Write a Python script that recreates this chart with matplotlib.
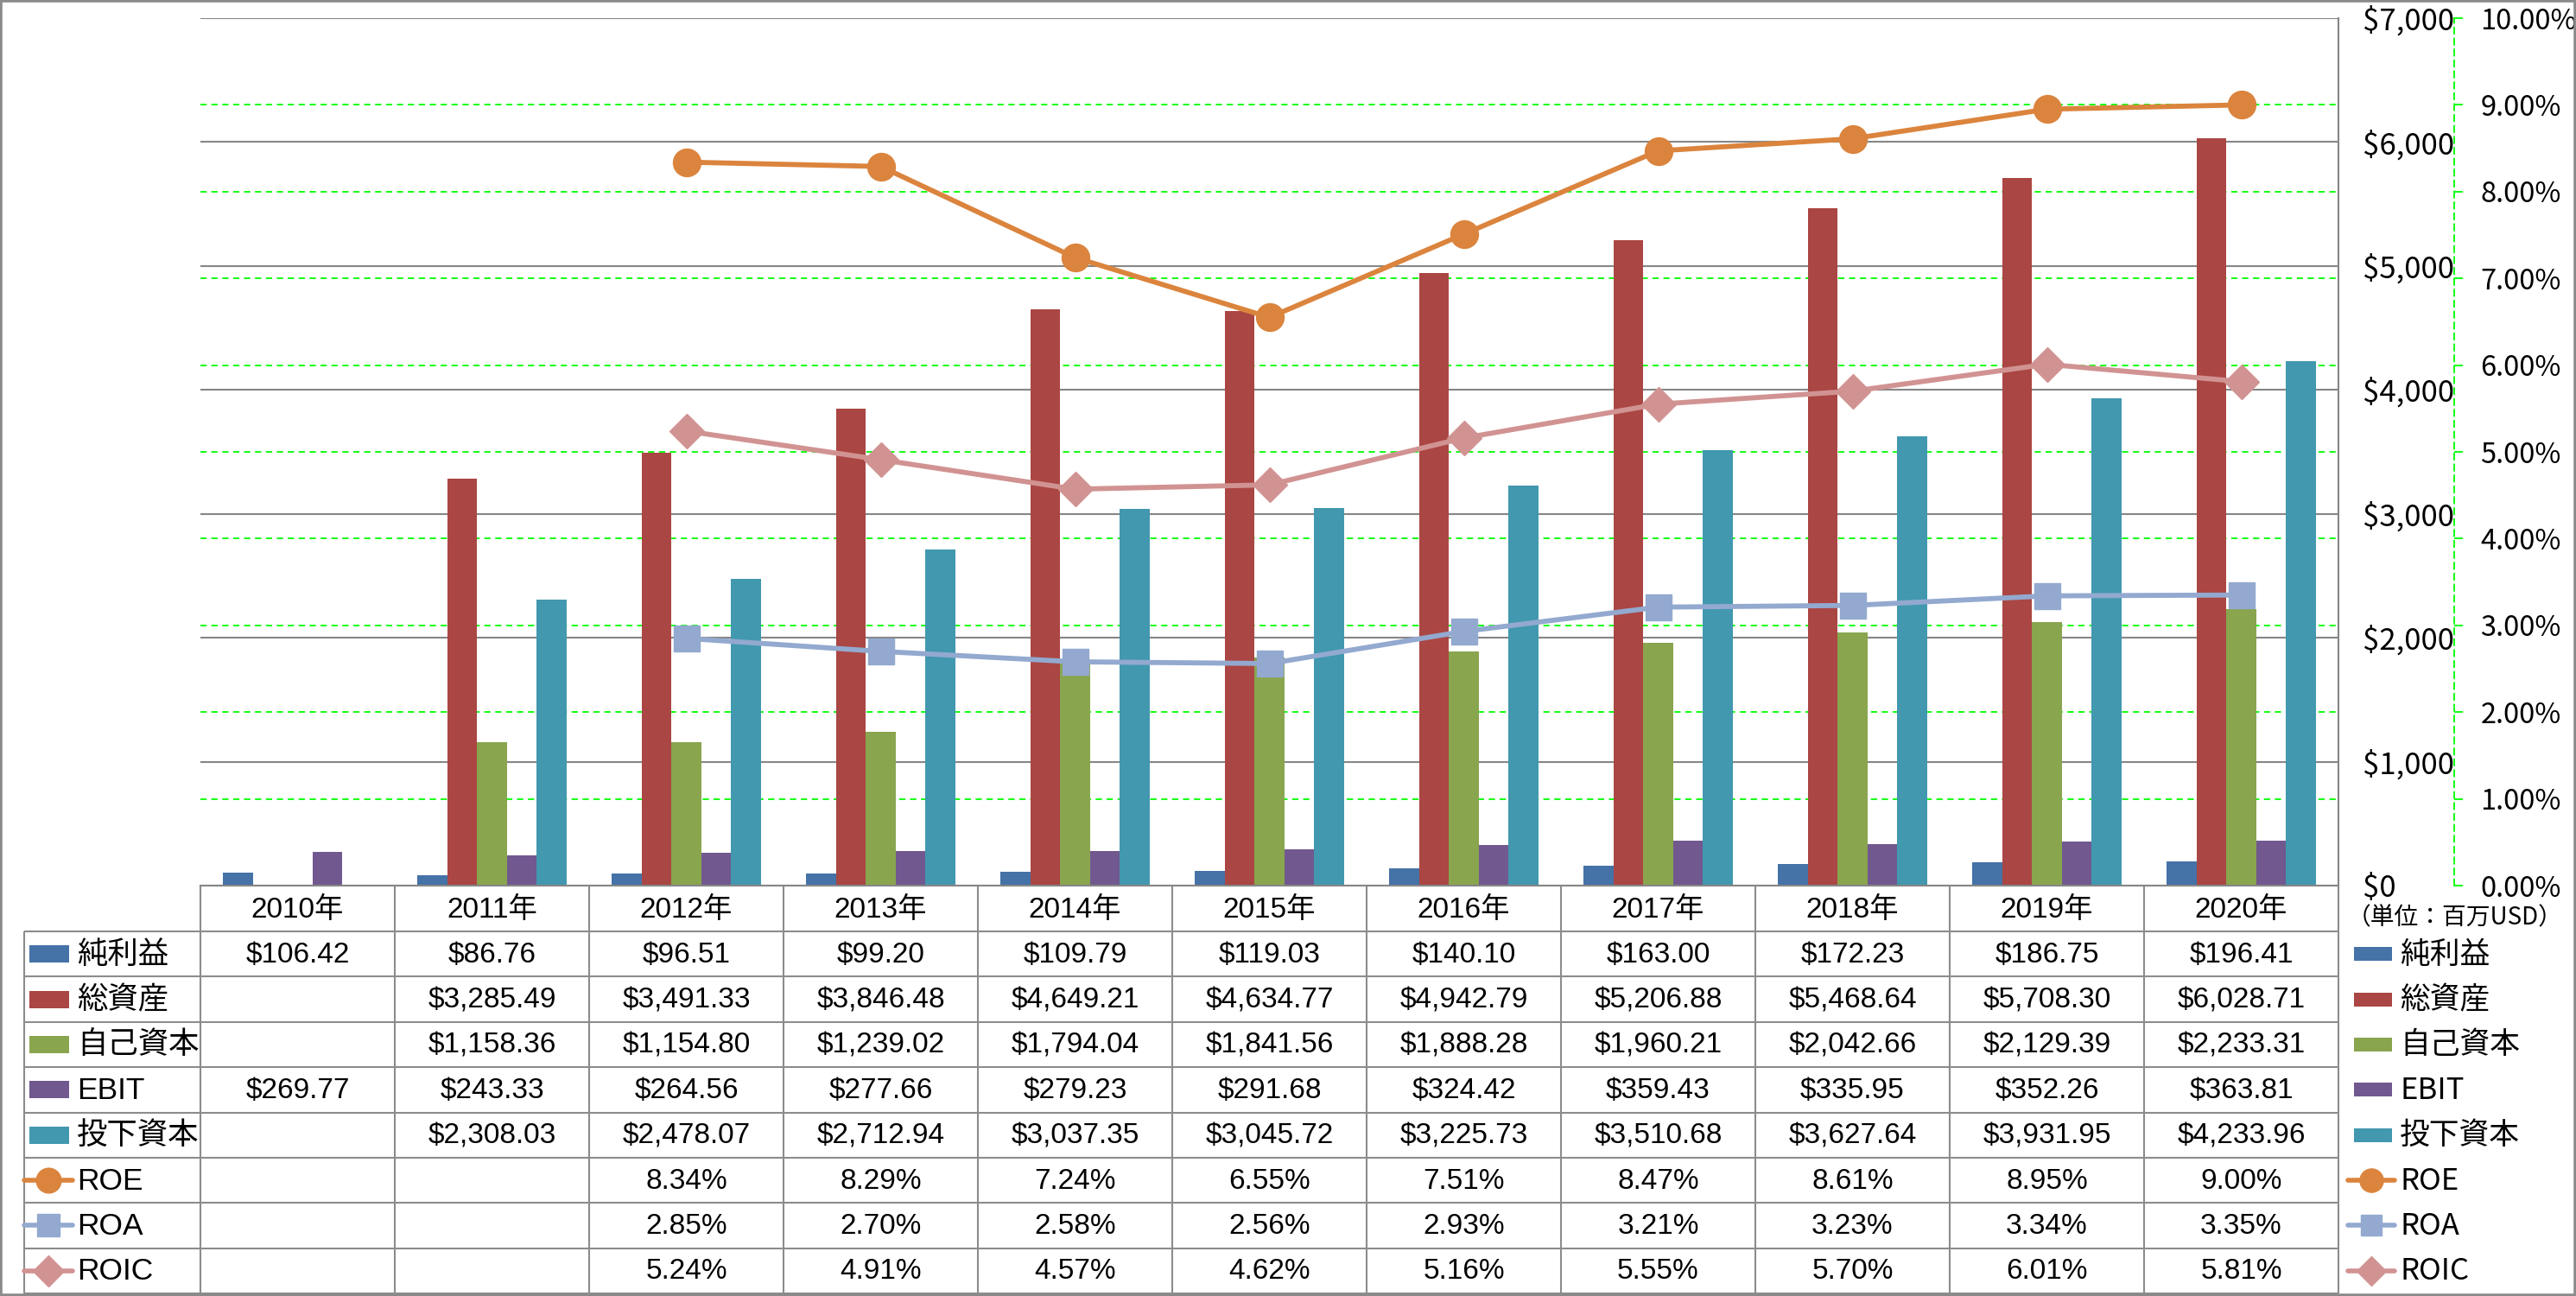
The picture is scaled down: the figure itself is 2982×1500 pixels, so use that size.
import numpy as np
import matplotlib
matplotlib.use("Agg")
import matplotlib.pyplot as plt
from matplotlib import font_manager
from matplotlib.patches import Rectangle
from matplotlib.ticker import FuncFormatter, MultipleLocator

plt.rcParams['font.family'] = ['Noto Sans CJK JP', 'DejaVu Sans']
_have = {f.name for f in font_manager.fontManager.ttflist}
NARROW = 'Liberation Sans Narrow' in _have
TFONT = ['Liberation Sans Narrow' if NARROW else 'Liberation Sans', 'Noto Sans CJK JP']
TSIZE = 29 if NARROW else 24

nan = np.nan
years = ["2010年", "2011年", "2012年", "2013年", "2014年", "2015年",
         "2016年", "2017年", "2018年", "2019年", "2020年"]
net_income   = [106.42, 86.76, 96.51, 99.20, 109.79, 119.03, 140.10, 163.00, 172.23, 186.75, 196.41]
total_assets = [nan, 3285.49, 3491.33, 3846.48, 4649.21, 4634.77, 4942.79, 5206.88, 5468.64, 5708.30, 6028.71]
equity       = [nan, 1158.36, 1154.80, 1239.02, 1794.04, 1841.56, 1888.28, 1960.21, 2042.66, 2129.39, 2233.31]
ebit         = [269.77, 243.33, 264.56, 277.66, 279.23, 291.68, 324.42, 359.43, 335.95, 352.26, 363.81]
invested     = [nan, 2308.03, 2478.07, 2712.94, 3037.35, 3045.72, 3225.73, 3510.68, 3627.64, 3931.95, 4233.96]
roe  = [nan, nan, 8.34, 8.29, 7.24, 6.55, 7.51, 8.47, 8.61, 8.95, 9.00]
roa  = [nan, nan, 2.85, 2.70, 2.58, 2.56, 2.93, 3.21, 3.23, 3.34, 3.35]
roic = [nan, nan, 5.24, 4.91, 4.57, 4.62, 5.16, 5.55, 5.70, 6.01, 5.81]

BAR_SERIES = [("純利益", net_income, "#4572A7"),
              ("総資産", total_assets, "#AA4643"),
              ("自己資本", equity, "#89A54E"),
              ("EBIT", ebit, "#71588F"),
              ("投下資本", invested, "#4198AF")]
LINE_SERIES = [("ROE", roe, "#DB843D", "o", 23),
               ("ROA", roa, "#93A9CF", "s", 21),
               ("ROIC", roic, "#D19392", "D", 20)]

GRID = "#868686"
GREEN = "#00FF00"

W, H = 2982, 1500
fig = plt.figure(figsize=(W / 100, H / 100), dpi=100)
fig.patch.set_facecolor("white")

# plot area in pixels
PL, PR, PT, PB = 232, 2707, 21, 1025

# overlay for table / legend (pixel coords)
ov = fig.add_axes([0, 0, 1, 1], zorder=-1)
ov.set_xlim(0, W)
ov.set_ylim(H, 0)
ov.axis('off')

ax = fig.add_axes([PL / W, 1 - PB / H, (PR - PL) / W, (PB - PT) / H])
x = np.arange(len(years))
bw = 1 / 6.5
for i, (name, vals, col) in enumerate(BAR_SERIES):
    ax.bar(x + (i - 2) * bw, vals, width=bw, color=col, zorder=2)

ax.set_xlim(-0.5, len(years) - 0.5)
ax.set_ylim(0, 7000)
ax.yaxis.set_major_locator(MultipleLocator(1000))
ax.yaxis.set_major_formatter(FuncFormatter(lambda v, p: f"${v:,.0f}"))
ax.yaxis.grid(True, color=GRID, lw=1.5)
ax.set_axisbelow(True)
for p in range(1, 10):
    ax.axhline(p * 700, color=GREEN, lw=1.3, ls=(0, (4, 3)), zorder=1)

ax2 = ax.twinx()
ax2.set_ylim(0, 10)
for name, vals, col, mk, ms in LINE_SERIES:
    ax2.plot(x, vals, color=col, lw=4.2, marker=mk, ms=ms, mec=col, zorder=3)
ax2.yaxis.set_major_locator(MultipleLocator(1))
ax2.yaxis.set_major_formatter(FuncFormatter(lambda v, p: f"{v:.2f}%"))
for s in ('left', 'top', 'bottom'):
    ax2.spines[s].set_visible(False)
ax2.spines['right'].set_position(('axes', (2841 - PL) / (PR - PL)))
ax2.spines['right'].set_color(GREEN)
ax2.spines['right'].set_linestyle((0, (4, 3)))
ax2.spines['right'].set_linewidth(1.3)
ax2.tick_params(axis='y', colors='black', color=GREEN, length=7, width=1.3,
                pad=15, labelsize=23.5)

# primary labels also sit on the right (twinx resets them to the left)
ax.yaxis.tick_right()
ax.tick_params(axis='y', length=0, pad=20, labelsize=25, left=False, labelleft=False)
ax.tick_params(axis='x', length=0, labelbottom=False)
for s in ('left', 'top'):
    ax.spines[s].set_visible(False)
for s in ('right', 'bottom'):
    ax.spines[s].set_color(GRID)
    ax.spines[s].set_linewidth(1.5)

# ── data table ──────────────────────────────────────────────────────────
ncol = len(years)
colw = (PR - PL) / ncol
HDR_B = 1078
row_edges = np.linspace(HDR_B, 1497, 9)
lkw = dict(color="#8C8C8C", lw=1.5, solid_capstyle='butt')
for yy in row_edges:
    ov.plot([28, PR], [yy, yy], **lkw)
for j in range(ncol + 1):
    ov.plot([PL + j * colw] * 2, [PB, row_edges[-1]], **lkw)
ov.plot([28, 28], [row_edges[0], row_edges[-1]], **lkw)

for j, yr in enumerate(years):
    ov.text(PL + (j + 0.5) * colw, (PB + HDR_B) / 2 + 2, yr, ha='center', va='center',
            fontsize=TSIZE, family=TFONT)

rows = [(n, v, c, None, None) for n, v, c in BAR_SERIES] + \
       [(n, v, c, mk, ms) for n, v, c, mk, ms in LINE_SERIES]
for r, (name, vals, col, mk, ms) in enumerate(rows):
    yc = (row_edges[r] + row_edges[r + 1]) / 2
    for j, v in enumerate(vals):
        if np.isnan(v):
            continue
        s = f"${v:,.2f}" if mk is None else f"{v:.2f}%"
        ov.text(PL + (j + 0.5) * colw, yc + 1, s, ha='center', va='center',
                fontsize=TSIZE, family=TFONT)
    # legend keys: inside table (left) and on the right
    if mk is None:
        ov.add_patch(Rectangle((34, yc - 10), 46, 20, color=col, lw=0))
        ov.add_patch(Rectangle((2725, yc - 8), 44, 16, color=col, lw=0))
    else:
        ov.plot([28, 84], [yc, yc], color=col, lw=4, solid_capstyle='round')
        ov.plot([56], [yc], marker=mk, ms=ms * 0.9, color=col)
        ov.plot([2718, 2772], [yc, yc], color=col, lw=4, solid_capstyle='round')
        ov.plot([2745], [yc], marker=mk, ms=ms * 0.85, color=col)
    ov.text(89, yc + 1, name, ha='left', va='center', fontsize=25.5, family=TFONT)
    ov.text(2778, yc + 1, name, ha='left', va='center', fontsize=25)

ov.text(2842, 1062, "（単位：百万USD）", ha='center', va='center', fontsize=20)

fig.add_artist(Rectangle((0, 0), 1, 1, transform=fig.transFigure, fill=False,
                         ec="#8A8A8A", lw=4))

fig.savefig("out.png", dpi=100, facecolor="white")
